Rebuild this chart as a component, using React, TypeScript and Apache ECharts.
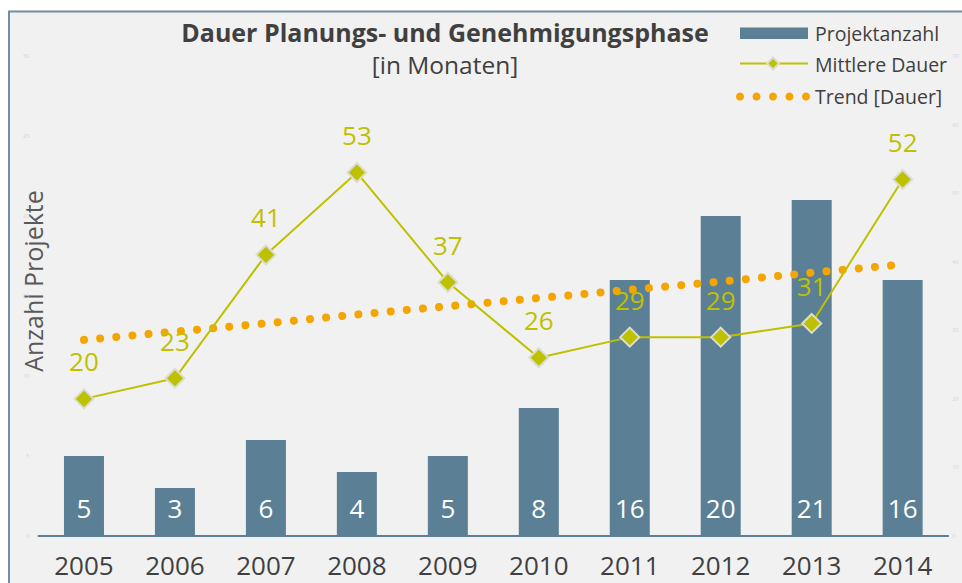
import React, { useEffect, useRef } from "react";
import * as echarts from "echarts";

const years = ["2005", "2006", "2007", "2008", "2009", "2010", "2011", "2012", "2013", "2014"];
const projectCounts = [5, 3, 6, 4, 5, 8, 16, 20, 21, 16];
const meanDuration = [20, 23, 41, 53, 37, 26, 29, 29, 31, 52];
const trendDuration = [28.6, 29.8, 31.0, 32.3, 33.5, 34.7, 35.9, 37.1, 38.4, 39.6];
const legendNames = ["Projektanzahl", "Mittlere Dauer", "Trend [Dauer]"];

const FONT = "'Open Sans', 'Noto Sans', sans-serif";
const BAR = "#5b7f95";
const OLIVE = "#bec100";
const ORANGE = "#f5a500";
const TXT = "#404040";

export default function App() {
  const ref = useRef<HTMLDivElement>(null);
  useEffect(() => {
    if (!ref.current) return;
    const chart = echarts.init(ref.current, undefined, { renderer: "svg" });
    const legendText = (i: number, y: number) => ({
      type: "text",
      x: 815,
      y,
      style: {
        text: legendNames[i],
        font: `19.5px ${FONT}`,
        fill: TXT,
        textAlign: "left",
        textVerticalAlign: "middle",
      },
    });
    const dotXs = [740, 756.5, 773, 789.5, 806];
    chart.setOption({
      animation: false,
      backgroundColor: "#ffffff",
      textStyle: { fontFamily: FONT },
      graphic: [
        {
          type: "rect",
          z: -10,
          silent: true,
          shape: { x: 9, y: 11.5, width: 1000, height: 1000 },
          style: { fill: "#f1f1f1", stroke: "#6f8ea5", lineWidth: 2 },
        },
        {
          type: "text",
          x: 445,
          y: 32,
          style: {
            text: "Dauer Planungs- und Genehmigungsphase",
            font: `bold 25px ${FONT}`,
            fill: TXT,
            textAlign: "center",
            textVerticalAlign: "middle",
          },
        },
        {
          type: "text",
          x: 445,
          y: 64,
          style: {
            text: "[in Monaten]",
            font: `24.5px ${FONT}`,
            fill: TXT,
            textAlign: "center",
            textVerticalAlign: "middle",
          },
        },
        {
          type: "text",
          x: 33,
          y: 281,
          rotation: Math.PI / 2,
          style: {
            text: "Anzahl Projekte",
            font: `25px ${FONT}`,
            fill: "#595959",
            textAlign: "center",
            textVerticalAlign: "middle",
          },
        },
        // custom legend
        {
          type: "rect",
          shape: { x: 740, y: 27.5, width: 68, height: 11.5 },
          style: { fill: BAR },
        },
        legendText(0, 33),
        {
          type: "line",
          shape: { x1: 740, y1: 63.5, x2: 808, y2: 63.5 },
          style: { stroke: OLIVE, lineWidth: 2 },
        },
        {
          type: "polygon",
          shape: { points: [[773, 57.5], [779, 63.5], [773, 69.5], [767, 63.5]] },
          style: { fill: OLIVE, stroke: "#dcdcd0", lineWidth: 2 },
        },
        legendText(1, 64),
        ...dotXs.map((x) => ({
          type: "circle",
          shape: { cx: x, cy: 96.5, r: 4 },
          style: { fill: ORANGE },
        })),
        legendText(2, 96),
      ],
      grid: { left: 38.5, right: 12.5, top: 56, bottom: 47 },
      xAxis: {
        type: "category",
        data: years,
        axisLine: { lineStyle: { color: BAR, width: 2 } },
        axisTick: { show: false },
        axisLabel: { fontSize: 26, color: TXT, margin: 16, fontFamily: FONT },
      },
      yAxis: [
        {
          type: "value",
          min: 0,
          max: 30,
          interval: 5,
          splitLine: { show: false },
          axisLine: { show: false },
          axisLabel: { fontSize: 6, color: "#d6d6d6", margin: 9 },
        },
        {
          type: "value",
          min: 0,
          max: 70,
          interval: 10,
          splitLine: { show: false },
          axisLine: { show: false },
          axisLabel: { fontSize: 6, color: "#d6d6d6", margin: 4 },
        },
      ],
      series: [
        {
          name: legendNames[0],
          type: "bar",
          data: projectCounts,
          barWidth: 40,
          itemStyle: { color: BAR },
          label: {
            show: true,
            position: "insideBottom",
            distance: 15,
            color: "#ffffff",
            fontSize: 26,
            fontFamily: FONT,
          },
        },
        {
          name: legendNames[2],
          type: "line",
          yAxisIndex: 1,
          data: trendDuration,
          symbol: "none",
          lineStyle: { color: ORANGE, width: 8, type: [0.01, 16.2], cap: "round" },
          itemStyle: { color: ORANGE },
          z: 3,
        },
        {
          name: legendNames[1],
          type: "line",
          yAxisIndex: 1,
          data: meanDuration,
          symbol: "diamond",
          symbolSize: 19,
          lineStyle: { color: OLIVE, width: 2 },
          itemStyle: { color: OLIVE, borderColor: "#dcdcd0", borderWidth: 2 },
          label: {
            show: true,
            position: "top",
            distance: 14,
            color: OLIVE,
            fontSize: 26,
            fontFamily: FONT,
          },
          z: 4,
        },
      ],
    });
    return () => chart.dispose();
  }, []);
  return (
    <div
      ref={ref}
      style={{ position: "fixed", left: 0, top: 0, width: 962, height: 583 }}
    />
  );
}
